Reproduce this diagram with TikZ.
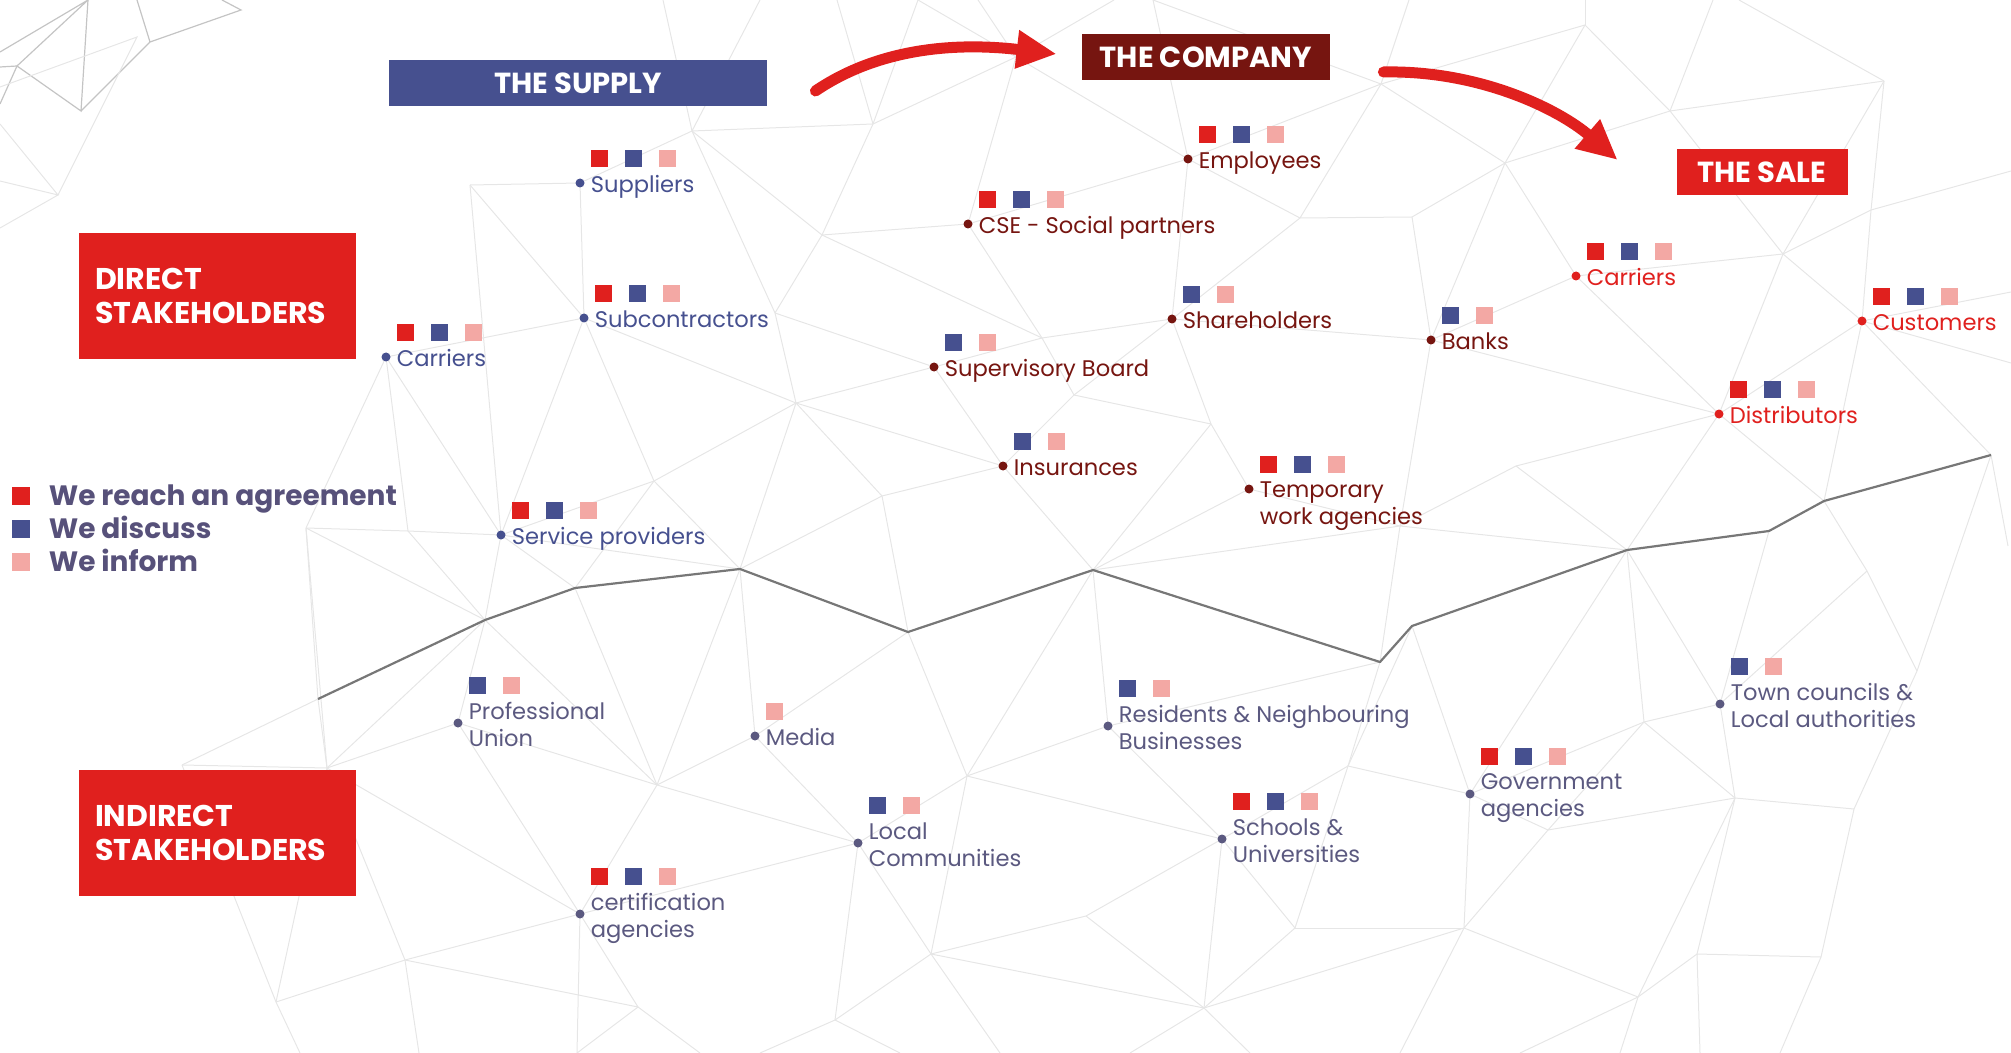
\documentclass[tikz,border=0pt]{standalone}
\usepackage{fontspec}
\setmainfont{Poppins}
\usetikzlibrary{positioning,arrows.meta}

\definecolor{supplyblue}{HTML}{46508F}
\definecolor{companyred}{HTML}{761510}
\definecolor{salered}{HTML}{E0201E}
\definecolor{agree}{HTML}{E0201E}
\definecolor{discuss}{HTML}{46508F}
\definecolor{inform}{HTML}{F3A8A4}
\definecolor{indirect}{HTML}{5B5980}
\definecolor{keygray}{HTML}{57517A}
\definecolor{meshgray}{HTML}{E6E6E6}
\definecolor{meshdarkgray}{HTML}{C4C4C4}
\definecolor{ridgegray}{HTML}{777777}

\tikzset{
  %Define square markers for the kind of dialogue
  flag/.style={
    rectangle,
    fill=#1,
    inner sep=0pt,
    minimum size=8.5pt},
  %Define dot in front of a stakeholder
  stake dot/.style={
    circle,
    fill=#1,
    inner sep=0pt,
    minimum size=4.5pt},
  %Define stakeholder labels
  lblbase/.style={
    font=\fontsize{11.3pt}{13.5pt}\selectfont,
    inner sep=0pt,
    anchor=north west},
  lbl/.style={lblbase, text height=8.5pt, text depth=2.5pt, yshift=4pt},
  lbl2/.style={lblbase, align=left, yshift=10.5pt},
  lbltop/.style={lblbase, align=left, yshift=4pt},
  %Define style for headings
  head/.style={
    rectangle,
    fill=#1,
    text=white,
    font=\bfseries\fontsize{14.5pt}{17pt}\selectfont,
    minimum height=23pt,
    inner sep=0pt},
  group/.style={
    rectangle,
    fill=salered,
    text=white,
    font=\bfseries\fontsize{15pt}{16.8pt}\selectfont,
    align=left,
    text width=122.5pt,
    inner xsep=8pt,
    minimum height=63pt},
  keytext/.style={
    text=keygray,
    font=\bfseries\fontsize{14pt}{16pt}\selectfont,
    inner sep=0pt,
    text height=9.75pt,
    text depth=0pt},
  % Define arrow style
  bigarrow/.style={
    draw=salered,
    line width=5.5pt,
    line cap=round,
    -{Triangle[length=20pt,width=18pt]}},
  mesh/.style={draw=meshgray, line width=0.5pt},
  meshdark/.style={draw=meshdarkgray, line width=0.6pt},
  divide/.style={draw=ridgegray, line width=1.1pt, line join=round}
}

\begin{document}
\begin{tikzpicture}[x=0.5pt, y=-0.5pt]
  \useasboundingbox (0,0) rectangle (2011,1053);

  % background mesh
  \foreach \n/\x/\y in {
    t1/663/0, t2/760/0, t3/837/0, t4/918/0, t5/978/0, t6/1114/0, t7/1153/0,
    t8/1409/0, t9/1585/0, t10/1713/0, t11/1739/0,
    r1/2011/171, r2/2011/292, r3/2011/363, r4/2008/546,
    b1/300/1053, b2/419/1053, b3/577/1053, b4/700/1053, b5/760/1053,
    b6/900/1053, b7/1000/1053, b8/1130/1053, b9/1250/1053, b10/1400/1053,
    b11/1520/1053, b12/1620/1053, b13/1700/1053, b14/1780/1053,
    Su/580/183, x1/470/185, Sc/584/318, Ca1/386/357, SP/501/535,
    p22/306/528, p46/408/531, p47/654/481,
    a/692/131, b/873/124, c/1016/57, d/822/235, i/775/313, h/796/403, l/882/496,
    E/1188/159, C/968/224, g/1042/338, S/1172/319, B/934/367, j/1074/395,
    k/1211/424, I/1003/466, T/1249/489,
    m/1381/84, f/1300/218, s/1412/217, r/1505/163, n/1585/25, o/1670/111,
    q/1884/81, u/1783/254, v/1871/210,
    Bk/1431/340, Ca2/1576/276, Cu/1862/321, Di/1719/414, w/1516/466, y1/1400/526,
    L1/318/699, L2/485/620, L3/575/588, L4/740/569, L5/908/632, L6/1093/570,
    L7/1380/662, L8/1412/626, L9/1627/550, L10/1769/531, L11/1824/501, L12/1991/455,
    p23/182/765, p24/327/768, PU/458/723, p25/657/785, Me/755/736, LC/858/843,
    p29/967/776, RN/1108/726, SU/1222/839, p30/1086/916, p31/931/954,
    p32/835/1020, p33/1204/1008, p34/1295/928, p35/1348/766, GA/1470/794,
    p36/1644/722, TC/1720/704, p37/1867/571, p38/1917/671, p39/1735/798,
    p40/1854/809, p41/1548/830, p42/1464/928, p43/1638/997, p44/1697/954,
    p45/1821/957, p26/276/1002, p27/405/960, CA/580/914, p28/638/1007}
    \coordinate (\n) at (\x,\y);

  \foreach \u/\v in {
    a/t1, a/t2, a/Su, a/b, a/d, a/i,
    Su/x1, Su/Sc, x1/Sc, x1/SP, Sc/Ca1, Sc/SP, Sc/p47, Sc/h,
    b/t3, b/t4, b/c, b/d, c/t4, c/t5, c/t6, c/C, c/E,
    d/C, d/i, d/g, i/h, i/B, h/B, h/p47, h/l, h/I, h/L4,
    C/E, C/g, E/m, E/f, E/S, E/t7, g/S, g/B, g/j,
    S/f, S/k, S/Bk, S/j, B/I, j/k, j/I, k/T, k/L6,
    I/L6, I/l, l/L4, l/L5, T/L6, T/y1,
    m/t7, m/t8, m/f, m/r, m/n, f/s, s/r, s/Bk,
    r/n, r/o, r/Ca2, r/Bk, n/t9, n/o, o/t10, o/q, o/u, q/t11, q/u, q/v,
    v/r1, v/u, v/Cu, u/Ca2, u/Cu, u/Di,
    Ca2/Bk, Ca2/Di, Bk/Di, Bk/y1,
    Cu/Di, Cu/r2, Cu/r3, Cu/L12, Cu/L11, Di/w, Di/L11, Di/L9,
    w/y1, w/L9, y1/L9, y1/L7, y1/L6,
    L6/RN, L6/p29, L7/RN, L7/p35, L8/p35, L8/GA, L9/GA, L9/p36, L9/TC,
    L10/TC, L11/p37, L12/r4, L12/p38,
    TC/p36, TC/p37, TC/p39, p37/p38, p38/p40, p36/p39, p36/p41, p36/GA,
    GA/p35, GA/p41, GA/p42, p35/p34, p35/SU, SU/RN, SU/p29, SU/p30, SU/p34,
    SU/p33, p34/p42, p34/p33, p42/p41, p41/p39, p39/p40, p39/p43, p39/p44,
    p40/p45, p44/p45, p43/p44, p43/p42, p42/p33,
    L1/p22, L1/p23, L1/p24, L2/p22, L2/p46, L2/SP, L2/PU, L2/p24, L2/p25,
    L3/SP, L3/p47, L3/p25, L4/p47, L4/SP, L4/Me, L4/p25, L5/Me, L5/p29,
    RN/p29, p22/Ca1, p46/Ca1, p22/p46, p22/p24, p46/SP, SP/Ca1, SP/p47,
    p23/p24, p24/PU, PU/p25, PU/CA, p24/CA, p24/p27, p23/p26, p24/p26,
    p25/CA, p25/Me, p25/LC, Me/LC, LC/p29, LC/CA, LC/p31, LC/p32,
    p29/p31, p30/p31, p30/p33, p31/p32, p31/p33, CA/p27, CA/p28, p27/p28,
    p27/p26, p26/b1, p27/b2, CA/b3, p28/b3, p28/b4, p32/b5, p32/b6, p31/b7,
    p33/b8, p33/b9, p42/b10, p43/b11, p43/b12, p44/b13, p45/b14}
    \draw[mesh] (\u) -- (\v);

  \draw[meshdark] (0,52) -- (88,0) -- (17,66) -- (0,67)
    (88,0) -- (81,111) -- (17,66) -- (0,104)
    (137,0) -- (150,42) -- (81,111)
    (150,42) -- (241,10) -- (222,0);
  \draw[mesh] (0,87) -- (137,37) -- (58,195) -- (0,124)
    (0,181) -- (58,195) -- (0,228);

  % dividing line between direct and indirect
  \draw[divide] (318,699) -- (485,620) -- (575,588) -- (740,569) -- (908,632)
    -- (1093,570) -- (1380,662) -- (1412,626) -- (1627,550) -- (1769,531)
    -- (1824,501) -- (1991,455);

  % headings
  \node[head=supplyblue, minimum width=189pt] (supply) at (578,83.5) {THE SUPPLY};
  \node[head=companyred, minimum width=124pt] (company) at (1206,57.5) {THE COMPANY};
  \node[head=salered, minimum width=85.5pt] (sale) at (1762,172) {THE SALE};
  \node[group] (direct) at (217.5,296) {DIRECT\\STAKEHOLDERS};
  \node[group] (indirect) at (217.5,833) {INDIRECT\\STAKEHOLDERS};

  \draw[bigarrow] ([shift={(24pt,-3.75pt)}]supply.east)
    .. controls +(37.5pt,25.5pt) and +(-38.5pt,4.5pt) ..
    ([shift={(-12.5pt,1.75pt)}]company.west);
  \draw[bigarrow] ([shift={(26.5pt,-7.25pt)}]company.east)
    .. controls +(48.5pt,1pt) and +(-29pt,25pt) ..
    ([shift={(-29.25pt,6pt)}]sale.west);

  % key
  \foreach \c/\y/\t in {agree/496/We reach an agreement,
                         discuss/529/We discuss,
                         inform/562/We inform}{
    \node[flag=\c, minimum size=9pt] (key-\c) at (21,\y) {};
    \node[keytext, right=9pt of key-\c] (key-\c-t) {\t};
  }

  % stakeholders
  \foreach \id/\px/\py/\tcol/\lsty/\marks/\txt in {
    sup/580/183/supplyblue/lbl/{agree,discuss,inform}/Suppliers,
    sub/584/318/supplyblue/lbl/{agree,discuss,inform}/Subcontractors,
    carin/386/357/supplyblue/lbl/{agree,discuss,inform}/Carriers,
    serv/501/535/supplyblue/lbl/{agree,discuss,inform}/Service providers,
    empl/1188/159/companyred/lbl/{agree,discuss,inform}/Employees,
    cse/968/224/companyred/lbl/{agree,discuss,inform}/CSE - Social partners,
    share/1172/319/companyred/lbl/{discuss,inform}/Shareholders,
    board/934/367/companyred/lbl/{discuss,inform}/Supervisory Board,
    insur/1003/466/companyred/lbl/{discuss,inform}/Insurances,
    temp/1249/489/companyred/lbltop/{agree,discuss,inform}/{Temporary\\work agencies},
    banks/1431/340/companyred/lbl/{discuss,inform}/Banks,
    carout/1576/276/salered/lbl/{agree,discuss,inform}/Carriers,
    cust/1862/321/salered/lbl/{agree,discuss,inform}/Customers,
    distr/1719/414/salered/lbl/{agree,discuss,inform}/Distributors,
    prof/458/723/indirect/lbl2/{discuss,inform}/{Professional\\Union},
    media/755/736/indirect/lbl/{inform}/Media,
    local/858/843/indirect/lbl2/{discuss,inform}/{Local\\Communities},
    cert/580/914/indirect/lbl2/{agree,discuss,inform}/{certification\\agencies},
    resid/1108/726/indirect/lbl2/{discuss,inform}/{Residents \& Neighbouring\\Businesses},
    school/1222/839/indirect/lbl2/{agree,discuss,inform}/{Schools \&\\Universities},
    gov/1470/794/indirect/lbl2/{agree,discuss,inform}/{Government\\agencies},
    town/1720/704/indirect/lbl2/{discuss,inform}/{Town councils \&\\Local authorities}}{
    \node[stake dot=\tcol] (\id) at (\px,\py) {};
    \node[right=2.75pt of \id, \lsty, text=\tcol] (\id-t) {\txt};
    \foreach \c [count=\i] in \marks
      \node[flag=\c, above right=3.75pt and 0pt of \id-t.north west,
            xshift=(\i-1)*17pt] (\id-\c) {};
  }
\end{tikzpicture}
\end{document}
